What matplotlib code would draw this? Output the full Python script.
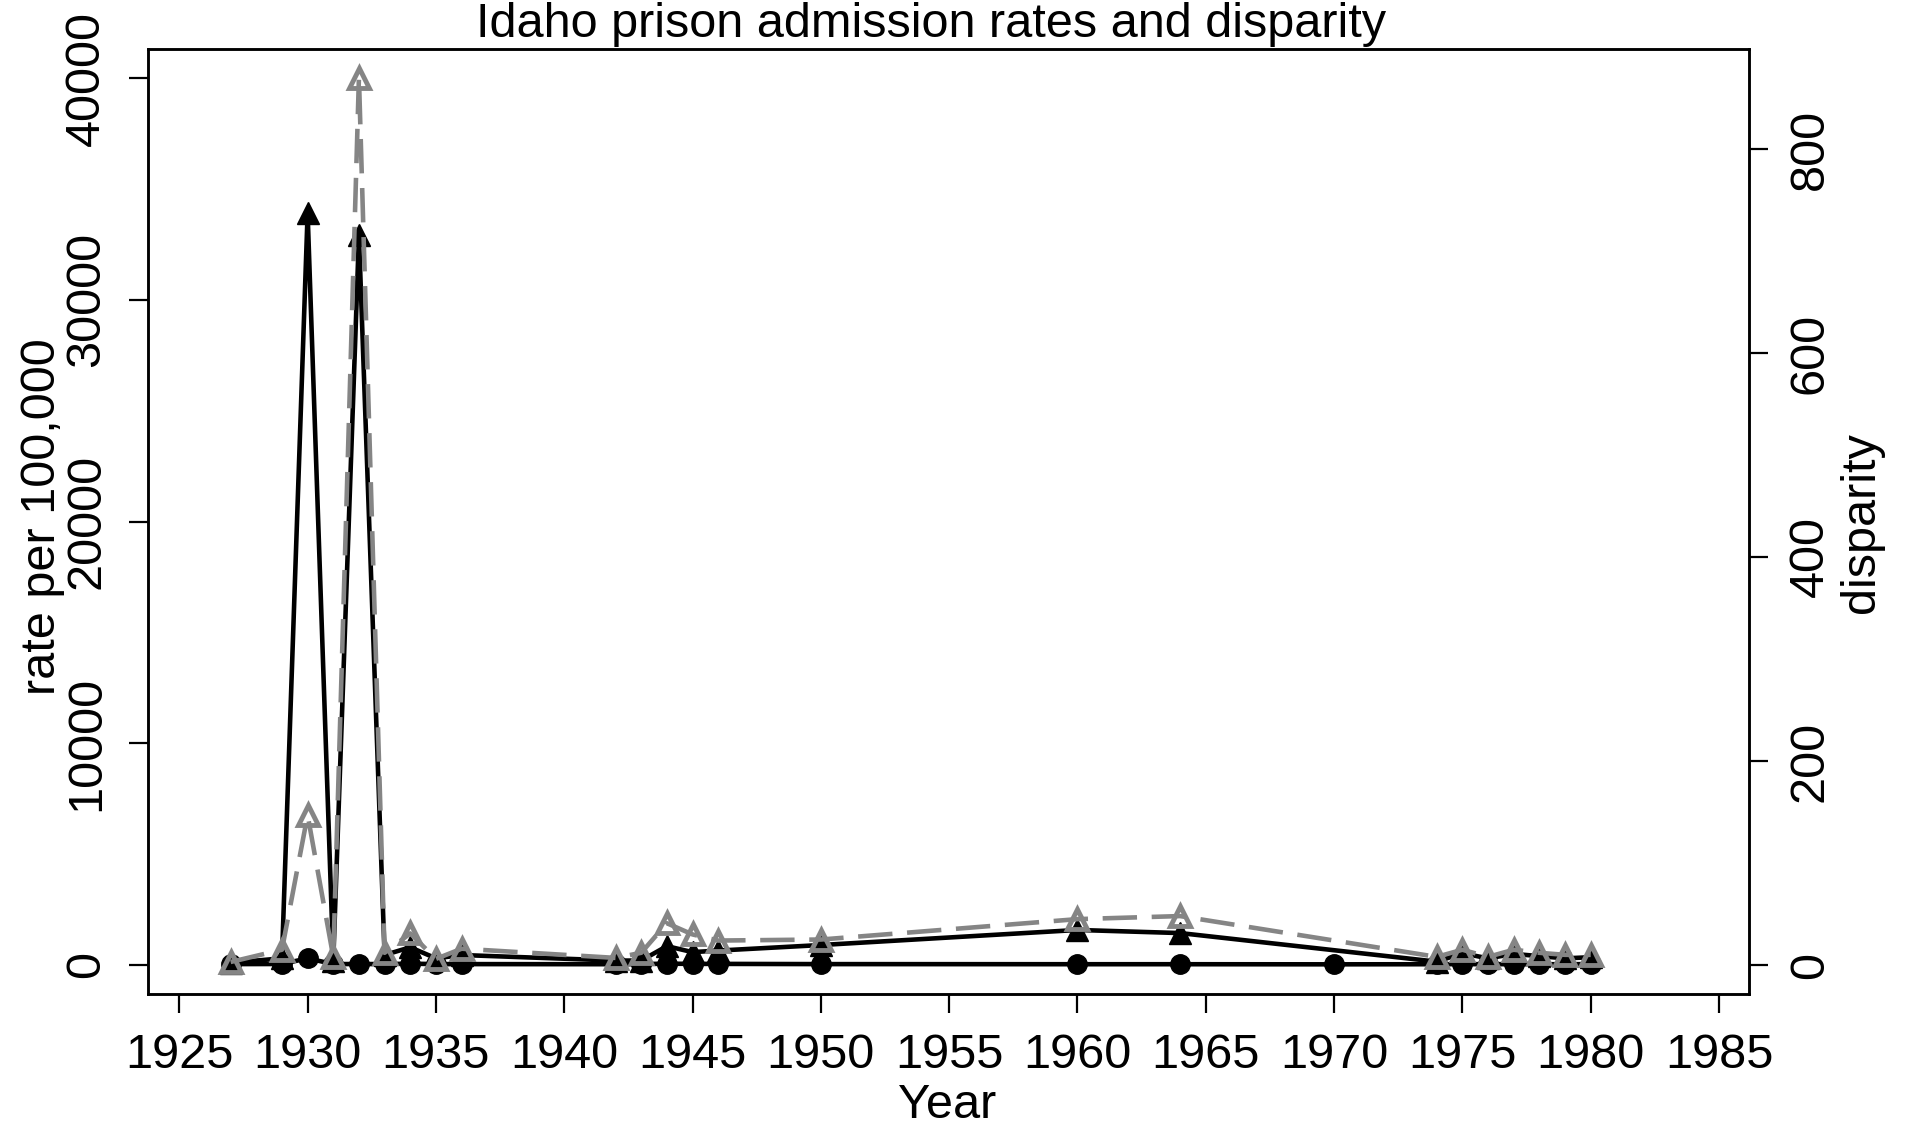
import numpy as np
import matplotlib.pyplot as plt

# rate per 100,000 (white, circles) -- all years
years_w = [1927, 1929, 1930, 1931, 1932, 1933, 1934, 1935, 1936, 1942, 1943, 1944,
           1945, 1946, 1950, 1960, 1964, 1970, 1974, 1975, 1976, 1977, 1978, 1979, 1980]
rate_w = [40, 45, 300, 40, 45, 40, 60, 40, 40, 35, 40, 60,
          50, 50, 40, 35, 35, 30, 35, 40, 35, 40, 35, 35, 40]

# rate per 100,000 (Black, filled triangles) and disparity (gray, open triangles)
years_b = [1927, 1929, 1930, 1931, 1932, 1933, 1934, 1935, 1936, 1942, 1943, 1944,
           1945, 1946, 1950, 1960, 1964, 1974, 1975, 1976, 1977, 1978, 1979, 1980]
rate_b = [100, 300, 33900, 200, 32900, 450, 800, 300, 450, 200, 200, 850,
          580, 650, 900, 1580, 1440, 150, 530, 300, 500, 400, 300, 350]
disparity = [3, 15, 147, 8, 870, 12, 31, 6, 16, 7, 12, 41,
             30, 24, 25, 45, 48, 8, 15, 8, 15, 12, 10, 10]

xticks = [1925, 1930, 1935, 1940, 1945, 1950, 1955, 1960, 1965, 1970, 1975, 1980, 1985]
lticks = [0, 10000, 20000, 30000, 40000]
rticks = [0, 200, 400, 600, 800]

plt.rcParams['font.family'] = ['Liberation Sans', 'DejaVu Sans']
gray = '#858585'
W, H = 1908, 1129

fig = plt.figure(figsize=(W / 100, H / 100), dpi=100)
ax = fig.add_axes([148 / W, 1 - 994 / H, (1749 - 148) / W, (994 - 49) / H])
ax2 = ax.twinx()

ax.plot(years_w, rate_w, '-', color='black', lw=3.3, marker='o', ms=14, zorder=2)
ax.plot(years_b, rate_b, '-', color='black', lw=3.3, marker='^', ms=16, zorder=3)
ax2.plot(years_b, disparity, color=gray, lw=3.3, dashes=(7.5, 3.2), marker='^', ms=15,
         mfc='none', mec=gray, mew=3.5)

ax.set_xlim(1923.78, 1986.17)
ax.set_ylim(-1308, 41308)
ax2.set_ylim(-28.4, 898)

ax.set_xticks(xticks)
ax.set_yticks(lticks)
ax2.set_yticks(rticks)

fs = 35
for a in (ax, ax2):
    for s in a.spines.values():
        s.set_linewidth(1.8)
    a.tick_params(length=14, width=1.6, labelsize=fs, pad=14)
ax.set_yticklabels([str(v) for v in lticks], rotation=90, va='center')
ax2.set_yticklabels([str(v) for v in rticks], rotation=90, va='center')

fig.text(43 / W, 1 - 517 / H, 'rate per 100,000', rotation=90, ha='center', va='center', fontsize=fs)
fig.text(1862 / W, 1 - 523 / H, 'disparity', rotation=90, ha='center', va='center', fontsize=fs)
fig.text(947 / W, 1 - 1105 / H, 'Year', ha='center', va='center', fontsize=fs)
fig.text(931 / W, 1 - 37 / H, 'Idaho prison admission rates and disparity', ha='center',
         va='baseline', fontsize=35)

fig.savefig('out.png', dpi=100)
